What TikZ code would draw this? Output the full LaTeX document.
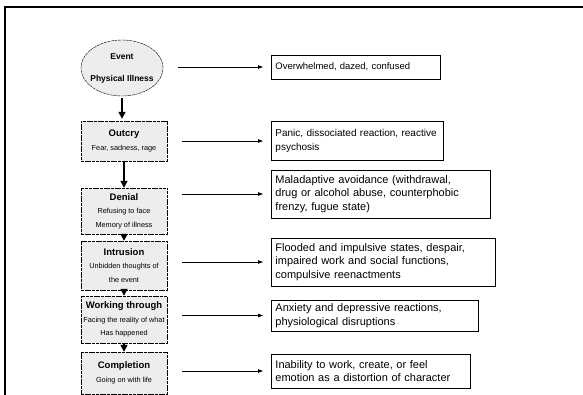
\documentclass[tikz,border=0pt]{standalone}
\usepackage{fontspec}
\setmainfont{Liberation Sans}
\usetikzlibrary{arrows.meta,shapes.geometric}

\begin{document}
\begin{tikzpicture}[
  x=1pt, y=-1pt,
  stage/.style={rectangle, draw, thin, dash pattern=on 3pt off 0.7pt, fill=black!7,
    minimum width=86pt, align=center, inner sep=2pt, font=\fontsize{7.3}{13.5}\selectfont},
  effect/.style={rectangle, draw, line width=0.9pt, anchor=west, align=left,
    inner xsep=4pt, inner ysep=3pt, font=\fontsize{11}{13.5}\selectfont},
  flow/.style={-{Triangle[length=7pt,width=7pt]}, line width=1.6pt},
  lead/.style={-{Triangle[length=5pt,width=3.5pt]}, line width=0.8pt,
    shorten <=15pt, shorten >=8pt}
  ]
  \useasboundingbox (0,0) rectangle (583,395);

  % page frame
  \draw[line width=1.8pt] (5,395) -- (5,7) -- (583,7);

  % Define nodes
  \node[ellipse, draw, thin, dash pattern=on 3pt off 0.7pt, fill=black!7,
    minimum width=82pt, minimum height=56pt, inner xsep=-3pt, inner ysep=0pt, align=center,
    font=\fontsize{8.5}{22}\selectfont\bfseries] (event) at (122,68) {Event\\Physical Illness};
  \node[stage, minimum height=40pt] (outcry) at (124,141)
    {{\fontsize{9.5}{13.5}\selectfont\bfseries Outcry}\\Fear, sadness, rage};
  \node[stage, minimum height=46pt] (denial) at (124,211)
    {{\fontsize{9.5}{13.5}\selectfont\bfseries Denial}\\Refusing to face\\Memory of illness};
  \node[stage, minimum height=49pt] (intrusion) at (124,265.5)
    {{\fontsize{9.5}{13.5}\selectfont\bfseries Intrusion}\\Unbidden thoughts of\\the event};
  \node[stage, minimum height=47pt] (working) at (124,319.5)
    {{\fontsize{9.5}{13.5}\selectfont\bfseries Working through}\\Facing the reality of what\\Has happened};
  \node[stage, minimum height=42pt] (completion) at (124,373)
    {{\fontsize{9.5}{13.5}\selectfont\bfseries Completion}\\Going on with life};

  \node[effect, text width=161pt, minimum height=24pt, font=\fontsize{9.5}{13.5}\selectfont]
    (overwhelmed) at (271,67) {Overwhelmed, dazed, confused};
  \node[effect, text width=164pt, minimum height=39pt, font=\fontsize{10}{13.5}\selectfont]
    (panic) at (271,141) {Panic, dissociated reaction, reactive\\psychosis};
  \node[effect, text width=211pt, minimum height=48pt] (avoidance) at (271,194)
    {Maladaptive avoidance (withdrawal,\\drug or alcohol abuse, counterphobic\\frenzy, fugue state)};
  \node[effect, text width=216pt, minimum height=48pt] (flooded) at (271,262)
    {Flooded and impulsive states, despair,\\impaired work and social functions,\\compulsive reenactments};
  \node[effect, text width=199pt, minimum height=31pt] (anxiety) at (271,315.5)
    {Anxiety and depressive reactions,\\physiological disruptions};
  \node[effect, text width=191pt, minimum height=34pt] (inability) at (271,371)
    {Inability to work, create, or feel\\emotion as a distortion of character};

  % Stages, top to bottom
  \draw[flow, shorten <=2pt, shorten >=2pt] (event) -- (event |- outcry.north);
  \draw[flow] (outcry) -- (denial);
  \draw[flow] (denial) -- (intrusion);
  \draw[flow] (intrusion) -- (working);
  \draw[flow] (working) -- (completion);

  % Stage to response
  \draw[lead] (event.east |- overwhelmed.west) -- (overwhelmed.west);
  \draw[lead] (outcry.east |- panic.west) -- (panic.west);
  \draw[lead] (denial.east |- avoidance.west) -- (avoidance.west);
  \draw[lead] (intrusion.east |- flooded.west) -- (flooded.west);
  \draw[lead] (working.east |- anxiety.west) -- (anxiety.west);
  \draw[lead] (completion.east |- inability.west) -- (inability.west);

\end{tikzpicture}
\end{document}
